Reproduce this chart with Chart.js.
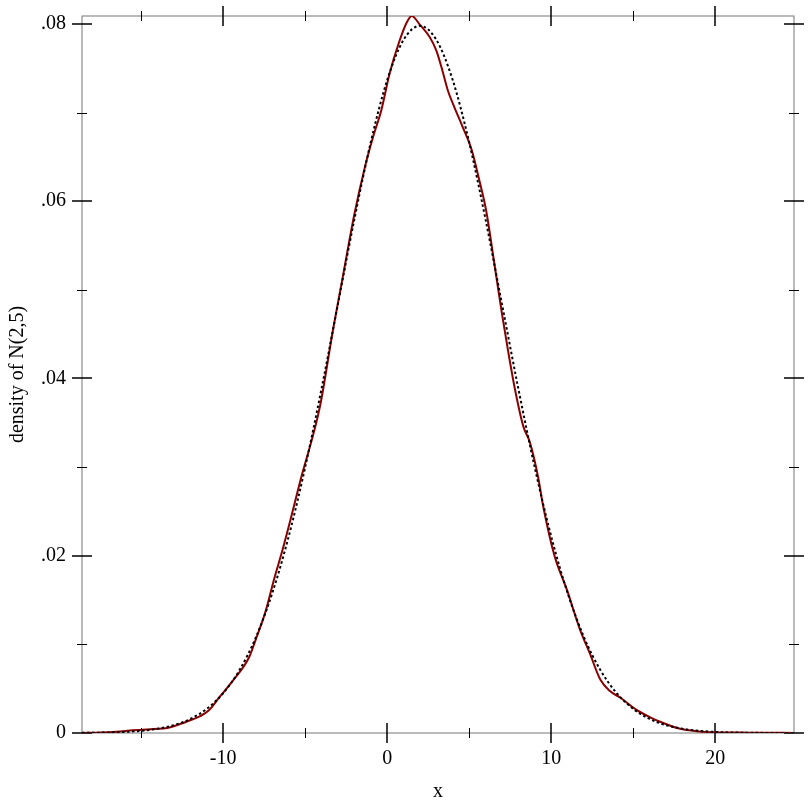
<!DOCTYPE html>
<html>
<head>
<meta charset="utf-8">
<script src="https://cdn.jsdelivr.net/npm/chart.js@4.4.1/dist/chart.umd.min.js"></script>
<style>
  html, body { margin: 0; padding: 0; background: #fff; }
  #wrap { width: 812px; height: 812px; }
</style>
</head>
<body>
<div id="wrap"><canvas id="chart" width="812" height="812"></canvas></div>
<script>
// axis bounds and ticks
const xBounds = [-18.6, 24.8];
const yBounds = [0, 0.0809];
const xTicks = [-10, 0, 10, 20];
const xMinorTicks = [-15, -5, 5, 15];
const yTicks = [0, 0.02, 0.04, 0.06, 0.08];
const yMinorTicks = [0.01, 0.03, 0.05, 0.07];
const xTitle = "x";
const yTitle = "density of N(2,5)";

// estimated density of the sample (red line)
const sampleX = [-18.6, -17.5, -16.5, -15.5, -14.9, -14.2, -13.4, -12.2, -11.4, -10.9,
  -10.2, -9.4, -8.4, -8.0, -7.4, -6.9, -6.4, -5.9, -5.3, -4.1,
  -3.3, -2.7, -2.0, -1.35, -0.85, -0.35, 0.15, 0.7, 1.2, 1.5,
  2.0, 2.6, 3.0, 3.3, 3.7, 4.1, 4.6, 5.15, 5.6, 6.05,
  6.5, 7.0, 7.4, 7.8, 8.3, 8.7, 9.2, 9.5, 10.2, 10.95,
  11.75, 12.35, 13.0, 13.6, 14.2, 15.2, 16.0, 16.6, 17.8, 19.0,
  20.0, 21.0, 22.0, 23.0, 24.8];
const sampleDensity = [0.00001, 0.00006, 0.00015, 0.0003, 0.00037, 0.00045, 0.00056, 0.0013, 0.0019, 0.0025,
  0.0041, 0.0059, 0.0086, 0.0106, 0.0138, 0.0173, 0.0205, 0.024, 0.0284, 0.0368,
  0.0455, 0.0515, 0.0585, 0.0639, 0.0673, 0.0703, 0.0744, 0.0778, 0.0802, 0.0809,
  0.0799, 0.0785, 0.077, 0.0752, 0.0725, 0.0706, 0.0684, 0.0658, 0.0625, 0.0588,
  0.0534, 0.0473, 0.0428, 0.0387, 0.0346, 0.0328, 0.0289, 0.0257, 0.02, 0.0162,
  0.0117, 0.009, 0.006, 0.0047, 0.004, 0.0026, 0.0018, 0.0013, 0.0005, 0.00018,
  0.00008, 0.00005, 0.00004, 0.00003, 0.00001];

// reference density N(2,5) (dotted line)
const normalX = [-18.6, -18, -17, -16, -15, -14, -13, -12, -11, -10,
  -9, -8, -7, -6, -5, -4, -3, -2, -1, 0,
  1, 2, 3, 4, 5, 6, 7, 8, 9, 10,
  11, 12, 13, 14, 15, 16, 17, 18, 19, 20,
  21, 22, 23, 24, 24.8];
const normalDensity = [0.000016, 0.000027, 0.000058, 0.000122, 0.000247, 0.000477, 0.000886, 0.001583, 0.002717, 0.004479,
  0.007095, 0.010798, 0.01579, 0.022184, 0.029945, 0.038837, 0.048394, 0.057938, 0.066645, 0.073654,
  0.078208, 0.079788, 0.078208, 0.073654, 0.066645, 0.057938, 0.048394, 0.038837, 0.029945, 0.022184,
  0.01579, 0.010798, 0.007095, 0.004479, 0.002717, 0.001583, 0.000886, 0.000477, 0.000247, 0.000122,
  0.000058, 0.000027, 0.000012, 0.000005, 0.0000025];

const FONT = "'Liberation Serif', 'Times New Roman', serif";

// cadre gris + graduations qui traversent les axes
const framePlugin = {
    id: "frame",
    beforeDatasetsDraw(chart) {
        const { ctx, chartArea: a, scales: { x, y } } = chart;
        ctx.save();
        ctx.strokeStyle = "#777";
        ctx.lineWidth = 1;
        ctx.strokeRect(a.left, a.top, a.right - a.left, a.bottom - a.top);

        ctx.strokeStyle = "#000";
        const vTick = (px, half) => {
            ctx.beginPath();
            ctx.moveTo(px, a.top - half); ctx.lineTo(px, a.top + half);
            ctx.moveTo(px, a.bottom - half); ctx.lineTo(px, a.bottom + half);
            ctx.stroke();
        };
        const hTick = (py, half) => {
            ctx.beginPath();
            ctx.moveTo(a.left - half, py); ctx.lineTo(a.left + half, py);
            ctx.moveTo(a.right - half, py); ctx.lineTo(a.right + half, py);
            ctx.stroke();
        };
        ctx.lineWidth = 1.5;
        xTicks.forEach(v => vTick(Math.round(x.getPixelForValue(v)), 10));
        yTicks.forEach(v => hTick(Math.round(y.getPixelForValue(v)), 10));
        ctx.lineWidth = 1;
        xMinorTicks.forEach(v => vTick(Math.round(x.getPixelForValue(v)) + 0.5, 5));
        yMinorTicks.forEach(v => hTick(Math.round(y.getPixelForValue(v)) + 0.5, 5));
        ctx.restore();
    }
};

const toPoints = (xs, ys) => xs.map((v, i) => ({ x: v, y: ys[i] }));

new Chart(document.getElementById("chart").getContext("2d"), {
    type: "line",
    data: {
        datasets: [
            {
                data: toPoints(normalX, normalDensity),
                borderColor: "#000",
                borderWidth: 2,
                borderDash: [2.5, 2.5],
                pointRadius: 0,
                cubicInterpolationMode: "monotone",
            },
            {
                data: toPoints(sampleX, sampleDensity),
                borderColor: "#8b0000",
                borderWidth: 2,
                pointRadius: 0,
                cubicInterpolationMode: "monotone",
            },
        ],
    },
    options: {
        responsive: false,
        animation: false,
        events: [],
        layout: { padding: { left: 0, right: 18, top: 16, bottom: 0 } },
        plugins: { legend: { display: false }, tooltip: { enabled: false } },
        scales: {
            x: {
                type: "linear",
                min: xBounds[0],
                max: xBounds[1],
                afterFit: s => { s.height = 79; s.paddingLeft = 0; s.paddingRight = 0; },
                afterBuildTicks: s => { s.ticks = xTicks.map(v => ({ value: v })); },
                grid: { display: false, drawTicks: false },
                border: { display: false },
                ticks: {
                    padding: 14,
                    color: "#000",
                    font: { family: FONT, size: 20 },
                    maxRotation: 0,
                    callback: v => String(v),
                },
                title: {
                    display: true,
                    text: xTitle,
                    color: "#000",
                    font: { family: FONT, size: 20 },
                    padding: { top: 0, bottom: 8 },
                },
            },
            y: {
                type: "linear",
                min: yBounds[0],
                max: yBounds[1],
                afterFit: s => { s.width = 82; s.paddingTop = 0; s.paddingBottom = 0; },
                afterBuildTicks: s => { s.ticks = yTicks.map(v => ({ value: v })); },
                grid: { display: false, drawTicks: false },
                border: { display: false },
                ticks: {
                    padding: 16,
                    color: "#000",
                    font: { family: FONT, size: 20 },
                    callback: v => (v === 0 ? "0" : v.toFixed(2).replace(/^0/, "")),
                },
                title: {
                    display: true,
                    text: yTitle,
                    color: "#000",
                    font: { family: FONT, size: 20 },
                    padding: { top: 6, bottom: 0 },
                },
            },
        },
    },
    plugins: [framePlugin],
});
</script>
</body>
</html>
